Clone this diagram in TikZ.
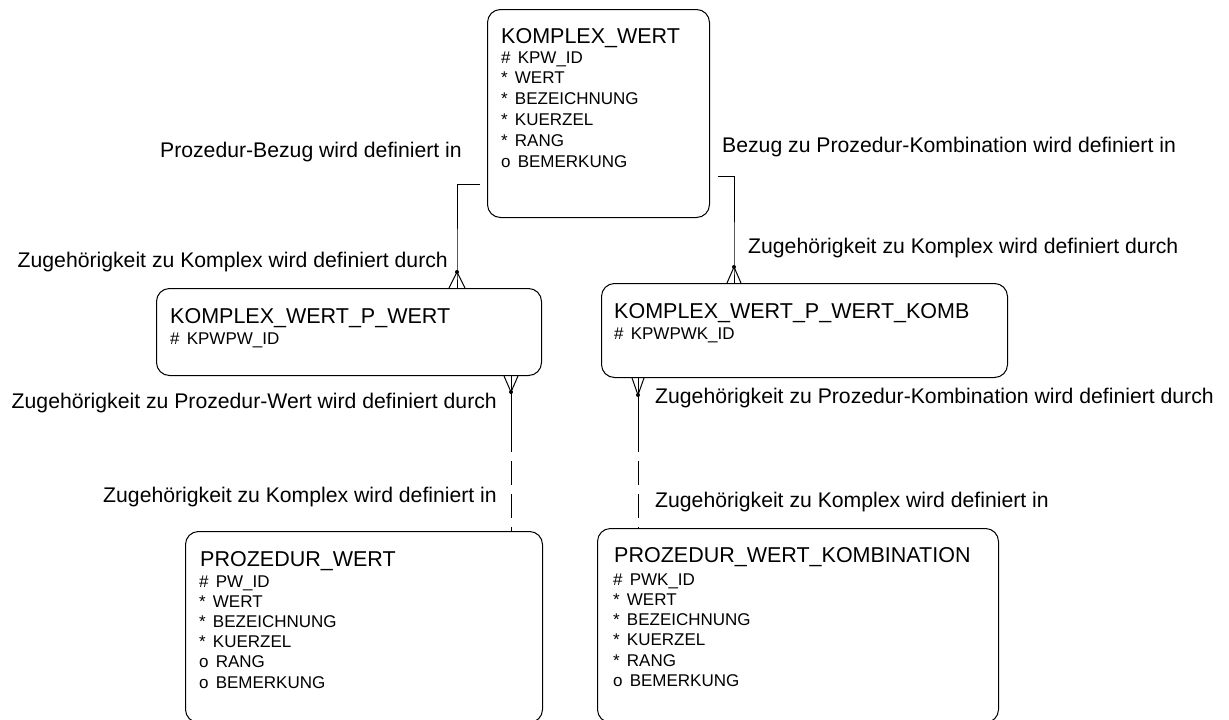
\documentclass[tikz,border=0pt]{standalone}
\usepackage{fontspec}
\setmainfont{Liberation Sans}
\usetikzlibrary{calc}
\newcommand{\attrgap}{\hspace{0.42em}}
\begin{document}
\begin{tikzpicture}[x=1pt,y=-1pt,
  entity/.style={draw, line width=1pt, rounded corners=13pt, anchor=north west, inner sep=0pt},
  rel/.style={line width=1pt},
  optional/.style={rel, dash pattern=on 24pt off 9pt, dash phase=24pt},
  title/.style={anchor=base west, inner sep=0pt, font=\fontsize{21.5}{24}\selectfont},
  attr/.style={anchor=base west, inner sep=0pt, font=\fontsize{17}{20}\selectfont},
  lblL/.style={anchor=base east, inner sep=0pt, font=\fontsize{21.2}{24}\selectfont},
  lblR/.style={anchor=base west, inner sep=0pt, font=\fontsize{21.2}{24}\selectfont},
  joint/.style={fill, circle, inner sep=0pt, minimum size=4pt}]
\useasboundingbox (0,0) rectangle (1229,720);

% entities
\node[entity, minimum width=222pt, minimum height=208pt] (kw) at (487,9) {};
\node[entity, minimum width=385pt, minimum height=87pt] (kwpw) at (156,288) {};
\node[entity, minimum width=406pt, minimum height=94pt] (kwpwk) at (601,283) {};
\node[entity, minimum width=357pt, minimum height=191pt] (pw) at (185,531) {};
\node[entity, minimum width=401pt, minimum height=194pt] (pwk) at (597,528) {};

% entity contents
\node[title] (kw-t) at (501,43) {KOMPLEX\_WERT};
\foreach \t [count=\i from 0] in {\#\attrgap KPW\_ID, *\attrgap WERT, *\attrgap BEZEICHNUNG, *\attrgap KUERZEL, *\attrgap RANG, o\attrgap BEMERKUNG}
  \node[attr] (kw-\i) at (501,63+20.8*\i) {\t};

\node[title] (kwpw-t) at (170,323) {KOMPLEX\_WERT\_P\_WERT};
\node[attr] (kwpw-0) at (170,344) {\#\attrgap KPWPW\_ID};

\node[title] (kwpwk-t) at (614,318) {KOMPLEX\_WERT\_P\_WERT\_KOMB};
\node[attr] (kwpwk-0) at (614,339) {\#\attrgap KPWPWK\_ID};

\node[title] (pw-t) at (200,566) {PROZEDUR\_WERT};
\foreach \t [count=\i from 0] in {\#\attrgap PW\_ID, *\attrgap WERT, *\attrgap BEZEICHNUNG, *\attrgap KUERZEL, o\attrgap RANG, o\attrgap BEMERKUNG}
  \node[attr] (pw-\i) at (199,587+20.2*\i) {\t};

\node[title] (pwk-t) at (614,562) {PROZEDUR\_WERT\_KOMBINATION};
\foreach \t [count=\i from 0] in {\#\attrgap PWK\_ID, *\attrgap WERT, *\attrgap BEZEICHNUNG, *\attrgap KUERZEL, *\attrgap RANG, o\attrgap BEMERKUNG}
  \node[attr] (pwk-\i) at (613,585+20.3*\i) {\t};

% relationship KOMPLEX_WERT -- KOMPLEX_WERT_P_WERT
\coordinate (r1s) at (480,184);
\coordinate (r1j) at (457,272);
\coordinate (r1m) at (r1j |- kwpw.north);
\coordinate (r1a) at ($(r1m)+(-8,0)$);
\coordinate (r1b) at ($(r1m)+(8,0)$);
\draw[rel] (r1s) -| (r1j) -- (r1m);
\draw[rel] (r1a) -- (r1j) -- (r1b);
\node[joint] (r1d) at (r1j) {};

% relationship KOMPLEX_WERT -- KOMPLEX_WERT_P_WERT_KOMB
\coordinate (r2s) at (718,176);
\coordinate (r2j) at (734,267);
\coordinate (r2m) at (r2j |- kwpwk.north);
\coordinate (r2a) at ($(r2m)+(-7,0)$);
\coordinate (r2b) at ($(r2m)+(7,0)$);
\draw[rel] (r2s) -| (r2j) -- (r2m);
\draw[rel] (r2a) -- (r2j) -- (r2b);
\node[joint] (r2d) at (r2j) {};

% relationship KOMPLEX_WERT_P_WERT -- PROZEDUR_WERT
\coordinate (r3j) at (511,392);
\coordinate (r3m) at (r3j |- kwpw.south);
\coordinate (r3a) at ($(r3m)+(-7,0)$);
\coordinate (r3b) at ($(r3m)+(7,0)$);
\coordinate (r3h) at (511,452);
\coordinate (r3e) at (r3j |- pw.north);
\draw[rel] (r3a) -- (r3j) -- (r3b);
\draw[rel] (r3m) -- (r3h);
\draw[optional] (r3h) -- (r3e);
\node[joint] (r3d) at (r3j) {};

% relationship KOMPLEX_WERT_P_WERT_KOMB -- PROZEDUR_WERT_KOMBINATION
\coordinate (r4j) at (638,395);
\coordinate (r4m) at (r4j |- kwpwk.south);
\coordinate (r4a) at ($(r4m)+(-6,0)$);
\coordinate (r4b) at ($(r4m)+(6,0)$);
\coordinate (r4h) at (638,452);
\coordinate (r4e) at (r4j |- pwk.north);
\draw[rel] (r4a) -- (r4j) -- (r4b);
\draw[rel] (r4m) -- (r4h);
\draw[optional] (r4h) -- (r4e);
\node[joint] (r4d) at (r4j) {};

% relationship labels
\node[lblL] (l1) at (462,157) {Prozedur-Bezug wird definiert in};
\node[lblR] (l2) at (722,152) {Bezug zu Prozedur-Kombination wird definiert in};
\node[lblL] (l3) at (448,267) {Zugehörigkeit zu Komplex wird definiert durch};
\node[lblR] (l4) at (748,253) {Zugehörigkeit zu Komplex wird definiert durch};
\node[lblL] (l5) at (497,408) {Zugehörigkeit zu Prozedur-Wert wird definiert durch};
\node[lblR] (l6) at (655,403) {Zugehörigkeit zu Prozedur-Kombination wird definiert durch};
\node[lblL] (l7) at (497,502) {Zugehörigkeit zu Komplex wird definiert in};
\node[lblR] (l8) at (655,507) {Zugehörigkeit zu Komplex wird definiert in};
\end{tikzpicture}
\end{document}
